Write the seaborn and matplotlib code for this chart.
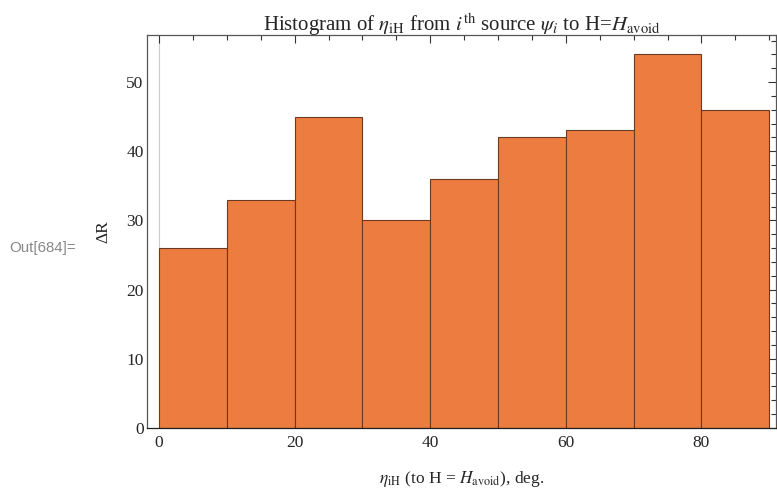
import matplotlib
matplotlib.use("Agg")
import matplotlib.pyplot as plt
from matplotlib.ticker import MultipleLocator
import seaborn as sns
import numpy as np

bin_edges = [0, 10, 20, 30, 40, 50, 60, 70, 80, 90]
counts = [26, 33, 45, 30, 36, 42, 43, 54, 46]
bin_centers = [5, 15, 25, 35, 45, 55, 65, 75, 85]

sns.set_style("white")
plt.rcParams['font.family'] = ['Liberation Serif', 'DejaVu Serif']
plt.rcParams['mathtext.fontset'] = 'stix'

fig = plt.figure(figsize=(7.77, 4.9), dpi=100)
ax = fig.add_axes([147/777, 62/490, 629/777, 393/490])

sns.histplot(x=bin_centers, weights=counts, bins=bin_edges, ax=ax,
             color="#EC7C40", edgecolor="#6b3a20", linewidth=0.8, alpha=1)

ax.set_xlim(-1.77, 91.0)
ax.set_ylim(0, 56.8)
ax.axvline(0, color="#cccccc", linewidth=0.8, zorder=0)

ax.xaxis.set_major_locator(MultipleLocator(20))
ax.xaxis.set_minor_locator(MultipleLocator(5))
ax.yaxis.set_major_locator(MultipleLocator(10))
ax.yaxis.set_minor_locator(MultipleLocator(2))
ax.tick_params(which='both', direction='in', top=True, right=True,
               labeltop=False, labelright=False, color="#333333", width=0.8)
ax.tick_params(which='major', length=6, labelsize=12.5)
ax.tick_params(axis='y', which='major', pad=2.5)
ax.tick_params(axis='x', which='major', pad=5)
ax.tick_params(which='minor', length=3.5)
for s in ax.spines.values():
    s.set_color("#555555")
    s.set_linewidth(0.9)
ax.spines['bottom'].set_color("#222222")

ax.set_title(r"Histogram of $\eta_{\rm iH}$ from $i^{\rm th}$ source $\psi_i$ to H=$H_{\rm avoid}$",
             fontsize=15, pad=3)
ax.set_xlabel(r"$\eta_{\rm iH}$ (to H = $H_{\rm avoid}$), deg.", fontsize=12.5, labelpad=13)
ax.set_ylabel(r"ΔR", fontsize=12.5, labelpad=11)

fig.text(9/777, 1 - 248/490, "Out[684]=", fontsize=10.8, color="#888888",
         family=['Liberation Sans', 'DejaVu Sans'], va='center', ha='left')

fig.savefig("out.png", dpi=100)
